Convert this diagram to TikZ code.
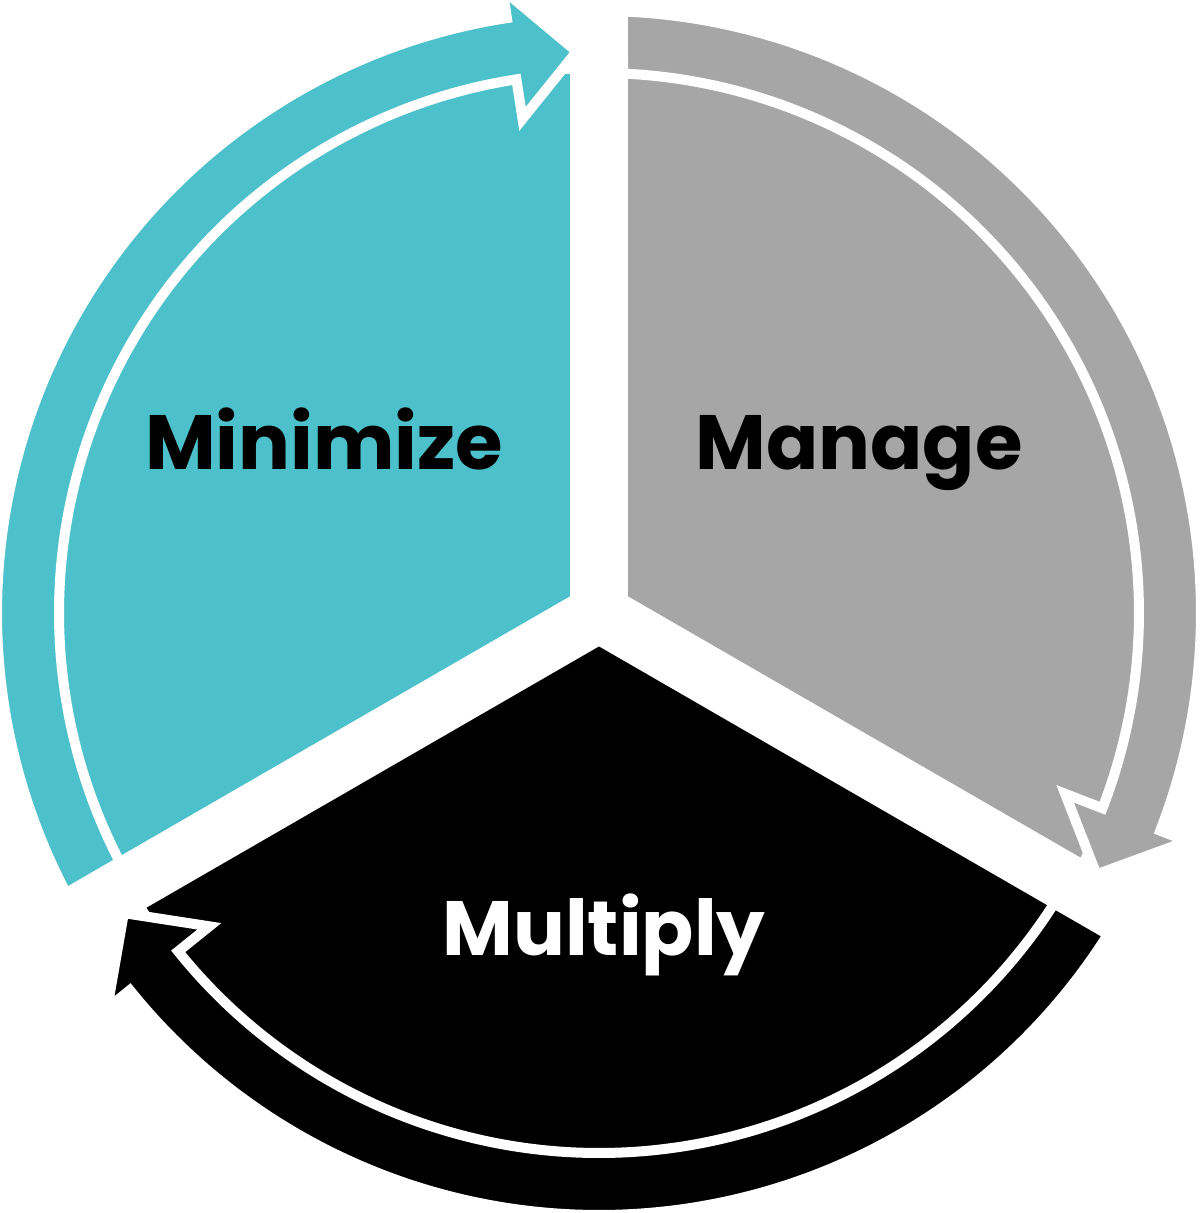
\documentclass[tikz,border=0pt]{standalone}
\usepackage{fontspec}
\newfontfamily\cyclefont{Poppins}
\usepackage{xcolor}
\usepackage{tikz}
\definecolor{minteal}{HTML}{4DC1CB}
\definecolor{mangray}{HTML}{A6A6A6}
\tikzset{
	band/.style={draw=white, line width=10pt, line join=miter},
	word/.style={anchor=base, font=\cyclefont\bfseries\fontsize{77}{77}\selectfont},
}

\begin{document}
\begin{tikzpicture}[x=1pt, y=1pt]
		\useasboundingbox (-599,-600) rectangle (601,613);
		\fill[minteal] (150:33.5) -- (93.08:540) arc[start angle=93.08, end angle=206.92, radius=540pt] -- cycle;
		\fill[mangray] (30:33.5) -- (-26.92:540) arc[start angle=-26.92, end angle=86.92, radius=540pt] -- cycle;
		\fill[black] (270:33.5) -- (213.08:540) arc[start angle=213.08, end angle=326.92, radius=540pt] -- cycle;
		\filldraw[band, fill=minteal] (207.72:602) arc[start angle=207.72, end angle=98.8, radius=602pt] -- (98.8:631) -- (92.28:562) -- (98.8:500) -- (98.8:540) arc[start angle=98.8, end angle=207.45, radius=540pt] -- cycle;
		\filldraw[band, fill=mangray] (87.72:602) arc[start angle=87.72, end angle=-21.2, radius=602pt] -- (-21.2:631) -- (-27.72:562) -- (-21.2:500) -- (-21.2:540) arc[start angle=-21.2, end angle=87.45, radius=540pt] -- cycle;
		\filldraw[band, fill=black] (327.72:602) arc[start angle=327.72, end angle=218.8, radius=602pt] -- (218.8:631) -- (212.28:562) -- (218.8:500) -- (218.8:540) arc[start angle=218.8, end angle=327.45, radius=540pt] -- cycle;
		\node[word, black] (minimize) at (-275,143) {Minimize};
		\node[word, black] (manage) at (260,143) {Manage};
		\node[word, white] (multiply) at (5,-342) {Multiply};
\end{tikzpicture}
\end{document}
